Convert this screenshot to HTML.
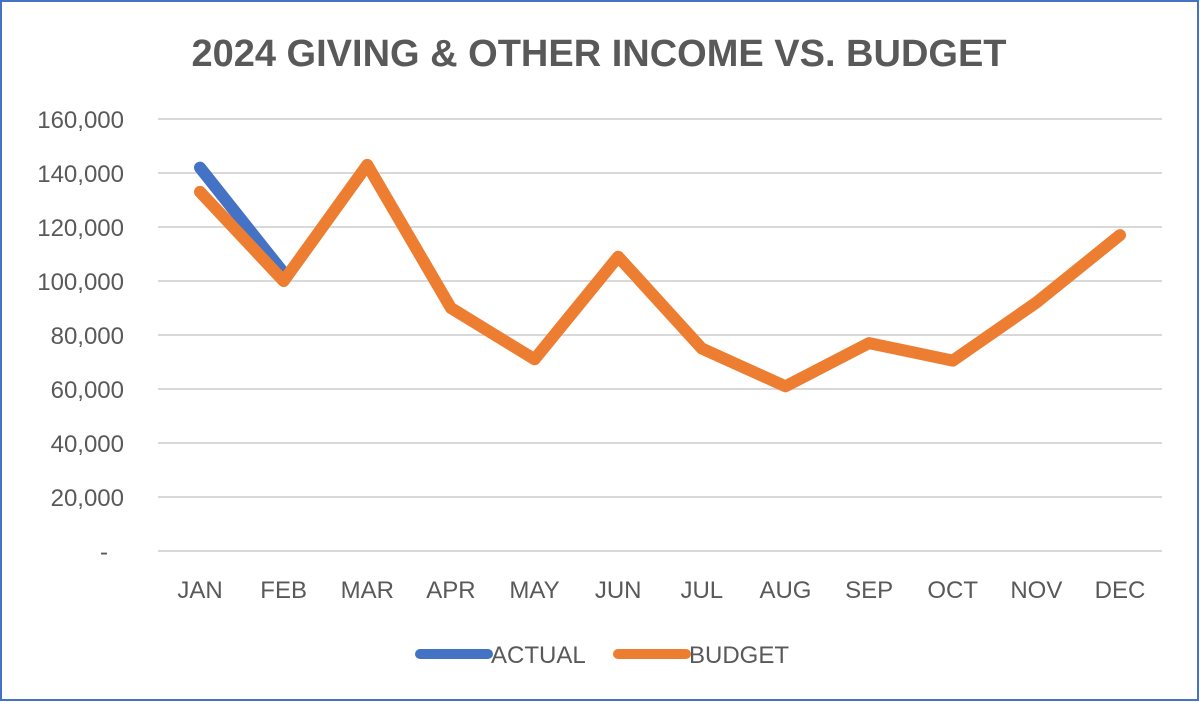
<!DOCTYPE html>
<html><head><meta charset="utf-8"><style>
html,body{margin:0;padding:0;background:#fff;}
body{width:1200px;height:702px;overflow:hidden;}
svg{display:block;font-family:"Liberation Sans",sans-serif;}
</style></head><body>
<svg id="chart" width="1200" height="702" viewBox="0 0 1200 702">
<rect x="1" y="1" width="1197" height="699" fill="#fff" stroke="#4472c4" stroke-width="2"/>
<text x="599" y="66" text-anchor="middle" font-size="38" font-weight="bold" fill="#595959">2024 GIVING &amp; OTHER INCOME VS. BUDGET</text>
<g id="grid"></g><g id="yt"></g><g id="xt"></g><g id="lines"></g>
<g>
<line x1="420" y1="654" x2="488" y2="654" stroke="#4472c4" stroke-width="10" stroke-linecap="round"/>
<text x="491" y="663" font-size="24" fill="#595959">ACTUAL</text>
<line x1="618" y1="654" x2="686" y2="654" stroke="#ed7d31" stroke-width="10" stroke-linecap="round"/>
<text x="689" y="663" font-size="24" fill="#595959">BUDGET</text>
</g>
</svg>
<script>
const months=["JAN","FEB","MAR","APR","MAY","JUN","JUL","AUG","SEP","OCT","NOV","DEC"];
const actual=[142000,103000];
const budget=[133000,100000,143000,90000,71000,109000,75000,61000,77000,70500,92000,117000];
const yTicks=[0,20000,40000,60000,80000,100000,120000,140000,160000];
const yLabels=["-","20,000","40,000","60,000","80,000","100,000","120,000","140,000","160,000"];
const NS="http://www.w3.org/2000/svg";
const y=v=>551-v*(432/160000);
const x=i=>200+i*(920/11);
function mk(t,a,p){const e=document.createElementNS(NS,t);for(const k in a)e.setAttribute(k,a[k]);document.getElementById(p).appendChild(e);return e;}
yTicks.forEach((v,i)=>{
 const g=mk("line",{x1:158,x2:1162,y1:y(v),y2:y(v),stroke:"#d9d9d9","stroke-width":2},"grid");
 
 
 const t=mk("text",{x:i==0?108:124,y:y(v)+9,"text-anchor":"end","font-size":24,fill:"#595959"},"yt");
 t.textContent=yLabels[i];
 
 
});
months.forEach((m,i)=>{
 const t=mk("text",{x:x(i),y:598,"text-anchor":"middle","font-size":24,fill:"#595959"},"xt");
 t.textContent=m;
 
 
});
function series(d,c,n){
 const p=mk("polyline",{points:d.map((v,i)=>x(i)+","+y(v)).join(" "),fill:"none",stroke:c,"stroke-width":12,"stroke-linecap":"round","stroke-linejoin":"round"},"lines");
 
 
}
series(actual,"#4472c4","actual-line");
series(budget,"#ed7d31","budget-line");
</script>
</body></html>
